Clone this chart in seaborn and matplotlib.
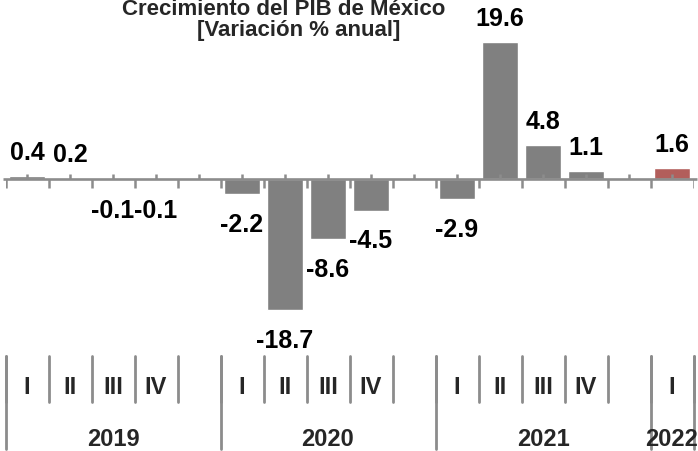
import numpy as np
import pandas as pd
import matplotlib
matplotlib.use("Agg")
import matplotlib.pyplot as plt
import seaborn as sns

# datos: crecimiento del PIB de Mexico, variacion % anual
years = ["2019", "2020", "2021", "2022"]
quarters = [["I", "II", "III", "IV"],
            ["I", "II", "III", "IV"],
            ["I", "II", "III", "IV"],
            ["I"]]
values = [0.4, 0.2, -0.1, -0.1,
          -2.2, -18.7, -8.6, -4.5,
          -2.9, 19.6, 4.8, 1.1,
          1.6]
highlight_year = "2022"

gray = "#808080"
red = "#c0504d"
line_gray = "#8c8c8c"

# ranuras: cada trimestre ocupa una, con una ranura vacia entre anios
slots = []
rows = []
year_bounds = []  # (primer slot, ultimo slot) por anio
k = 0
for gi, (yr, qs) in enumerate(zip(years, quarters)):
    start = len(slots)
    for q in qs:
        name = yr + "-" + q
        slots.append(name)
        rows.append({"slot": name, "valor": values[k],
                     "grupo": "hl" if yr == highlight_year else "base"})
        k += 1
    year_bounds.append((start, len(slots) - 1))
    if gi < len(years) - 1:
        slots.append("gap%d" % gi)
df = pd.DataFrame(rows)

sns.set_theme(style="white")
plt.rcParams["font.family"] = ["Liberation Sans", "DejaVu Sans"]

W, H = 698, 452
fig = plt.figure(figsize=(W / 100, H / 100), dpi=100)
ax = fig.add_axes([5.5 / W, 0, 688 / W, 1])

sns.barplot(data=df, x="slot", y="valor", hue="grupo", order=slots,
            palette={"base": gray, "hl": red}, dodge=False, width=0.82,
            legend=False, ax=ax, zorder=2)

n = len(slots)
ax.set_xlim(-0.5, n - 0.5)
px = 7.0  # pixeles por unidad
zero_pix = 180
ax.set_ylim(-(H - zero_pix) / px, zero_pix / px)
ax.axis("off")

# linea cero y marcas
ax.plot([-0.55, n - 0.43], [0, 0], color=line_gray, lw=1.9, zorder=3,
        clip_on=False, solid_capstyle="butt")
ax.vlines(np.arange(n + 1) - 0.5, -9 / px, 0, color=line_gray, lw=1.8, zorder=3)
ax.vlines(np.arange(n), 0, 5 / px, color=line_gray, lw=1.8, zorder=3)

# etiquetas de valor
for _, r in df.iterrows():
    xi = slots.index(r["slot"])
    v = r["valor"]
    if v >= 0:
        off = 24 * 0.72
    else:
        off = -30 * 0.72
    ax.annotate("%.1f" % v, (xi, v), xytext=(0, off), textcoords="offset points",
                ha="center", va="center", fontsize=18, fontweight="bold",
                color="black", zorder=4)

# tabla de trimestres y anios
tr = ax.get_xaxis_transform()
fy = lambda p: 1 - p / H
q_top, q_bot, y_bot = fy(357), fy(403), fy(450)
for gi, (s0, s1) in enumerate(year_bounds):
    for b in np.arange(s0, s1 + 2) - 0.5:
        ax.plot([b, b], [q_top, q_bot], transform=tr, color=line_gray, lw=2,
                clip_on=False)
    for xi, q in zip(range(s0, s1 + 1), quarters[gi]):
        ax.text(xi, fy(388), q, transform=tr, ha="center", va="center",
                fontsize=17, fontweight="bold")
    left = s0 - 0.5
    right = year_bounds[gi + 1][0] - 0.5 if gi < len(years) - 1 else s1 + 0.5
    ax.plot([left, left], [q_top, y_bot], transform=tr, color=line_gray, lw=2,
            clip_on=False)
    if gi == len(years) - 1:
        ax.plot([right, right], [q_top, y_bot], transform=tr, color=line_gray,
                lw=2, clip_on=False)
    ax.text((left + right) / 2, fy(440), years[gi], transform=tr, ha="center",
            va="center", fontsize=17, fontweight="bold")

fig.text(284 / W, fy(15), "Crecimiento del PIB de México", ha="center",
         va="baseline", fontsize=16, fontweight="bold")
fig.text(299 / W, fy(36), "[Variación % anual]", ha="center",
         va="baseline", fontsize=16, fontweight="bold")

fig.savefig("out.png", dpi=100)
